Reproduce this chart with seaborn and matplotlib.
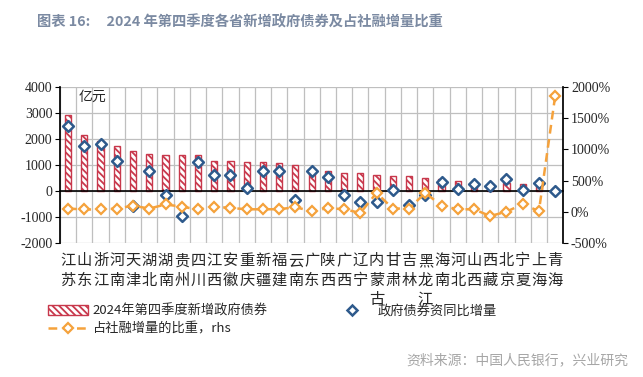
import numpy as np
import pandas as pd
import seaborn as sns
import matplotlib.pyplot as plt
from matplotlib.patches import Patch
from matplotlib.lines import Line2D

# 数据（亿元 / %），按图中从左到右读取
provinces = ["江苏", "山东", "浙江", "河南", "天津", "湖北", "湖南", "贵州", "四川", "江西",
             "安徽", "重庆", "新疆", "福建", "云南", "广东", "陕西", "广西", "辽宁", "内蒙古",
             "甘肃", "吉林", "黑龙江", "海南", "河北", "山西", "西藏", "北京", "宁夏", "上海", "青海"]
new_bonds = [2910, 2140, 1930, 1710, 1520, 1440, 1400, 1370, 1370, 1150,
             1150, 1120, 1100, 1070, 1000, 800, 760, 710, 680, 610,
             570, 570, 520, 470, 400, 360, 200, 310, 260, 230, 120]
yoy_increase = [2500, 1720, 1800, 1150, -560, 770, -140, -960, 1100, 620,
                620, 120, 780, 780, -330, 780, 550, -150, -410, -410,
                50, -530, -140, 360, 70, 270, 200, 450, 40, 320, 0]
share_tsf = [55, 40, 40, 55, 100, 55, 120, 85, 40, 85,
             65, 43, 43, 45, 75, 16, 60, 45, -16, 305,
             55, 55, 305, 100, 43, 43, -65, 5, 125, 14, 1850]

left_ticks = [-2000, -1000, 0, 1000, 2000, 3000, 4000]
right_ticks = [-500, 0, 500, 1000, 1500, 2000]

df = pd.DataFrame({
    "省份": provinces,
    "idx": np.arange(len(provinces)),
    "新增": new_bonds,
    "同比": yoy_increase,
    "占比": share_tsf,
})

red = "#c8384c"
blue = "#2e5a8c"
orange = "#f5a23c"

sns.set_theme(style="white")
plt.rcParams["font.family"] = ["Noto Sans CJK SC", "DejaVu Sans"]
plt.rcParams["hatch.linewidth"] = 1.3
plt.rcParams["axes.unicode_minus"] = False

fig = plt.figure(figsize=(6.43, 3.77), dpi=100)
ax = fig.add_axes([0.0933, 0.3546, 0.7827, 0.4154])

# 柱状：新增政府债券
sns.barplot(data=df, x="idx", y="新增", ax=ax, color="white", width=0.38,
            edgecolor=red, linewidth=1.0, native_scale=True)
for p in ax.patches:
    p.set_hatch("\\\\\\\\\\")
    p.set_facecolor("white")
    p.set_edgecolor(red)

# 散点：同比增量
sns.scatterplot(data=df, x="idx", y="同比", ax=ax, marker="D", s=30,
                facecolor="white", edgecolor=blue, linewidth=1.8, zorder=4)

ax.set_xlim(-0.5, len(provinces) - 0.5)
ax.set_ylim(-2000, 4000)
ax.set_yticks(left_ticks)
ax.set_yticklabels([str(v) for v in left_ticks], fontfamily="Liberation Serif", fontsize=10)
ax.set_xticks(df["idx"])
ax.set_xticklabels(["\n".join(p) for p in provinces], fontsize=9.5, linespacing=0.95)
ax.set_xticks(np.arange(len(provinces) + 1) - 0.5, minor=True)
ax.tick_params(axis="x", which="major", length=0, pad=44)
ax.tick_params(axis="x", which="minor", length=3.5, width=0.8, color="black", direction="out")
ax.tick_params(axis="y", length=3.5, width=0.8, color="black", direction="out", pad=2)
ax.set_xlabel("")
ax.set_ylabel("")

ax.grid(axis="y", which="major", color="#bfbfbf", linewidth=0.9)
ax.grid(axis="x", which="minor", color="#bfbfbf", linewidth=0.9)
ax.set_axisbelow(True)

ax.spines["bottom"].set_position(("data", 0))
ax.spines["bottom"].set_color("black")
ax.spines["bottom"].set_linewidth(1.2)
ax.spines["left"].set_color("black")
ax.spines["top"].set_visible(False)
ax.spines["right"].set_visible(False)

ax.text(0.036, 0.935, "亿元", transform=ax.transAxes, fontsize=10, va="center", ha="left")

# 折线：占社融增量的比重（右轴）
ax2 = ax.twinx()
sns.lineplot(data=df, x="idx", y="占比", ax=ax2, color=orange, linewidth=1.8,
             linestyle=(0, (3.5, 2.2)), marker="D", markersize=5.2,
             markerfacecolor="white", markeredgecolor=orange, markeredgewidth=1.6,
             sort=False, zorder=5)
ax2.set_ylim(-500, 2000)
ax2.set_yticks(right_ticks)
ax2.set_yticklabels([f"{v}%" for v in right_ticks], fontfamily="Liberation Serif", fontsize=10)
ax2.tick_params(axis="y", length=3.5, width=0.8, color="black", direction="out", pad=2)
ax2.set_ylabel("")
ax2.grid(False)
for s in ["top", "bottom", "left"]:
    ax2.spines[s].set_visible(False)
ax2.spines["right"].set_color("black")
ax2.set_xlim(-0.5, len(provinces) - 0.5)

# 图例
handles = [
    Patch(facecolor="white", edgecolor=red, hatch="\\\\\\\\\\", linewidth=1.0),
    Line2D([], [], color=orange, linewidth=1.8, linestyle=(0, (3.5, 2.2)), marker="D",
           markersize=5.2, markerfacecolor="white", markeredgecolor=orange, markeredgewidth=1.6),
    Line2D([], [], linestyle="none", marker="D", markersize=5.2,
           markerfacecolor="white", markeredgecolor=blue, markeredgewidth=1.8),
]
labels = ["2024年第四季度新增政府债券", "占社融增量的比重，rhs", "政府债券资同比增量"]
fig.legend(handles, labels, loc="upper left", bbox_to_anchor=(0.0747, 0.192), ncol=2,
           frameon=False, fontsize=9.5, handlelength=3.0, handleheight=0.8,
           handletextpad=0.4, columnspacing=4.9, labelspacing=0.35,
           borderpad=0, borderaxespad=0)

fig.text(0.0575, 0.9416, "图表 16:     2024 年第四季度各省新增政府债券及占社融增量比重",
         fontsize=10.3, fontweight="bold", color="#7b8aa2", va="center", ha="left")
fig.text(0.977, 0.045, "资料来源：中国人民银行，兴业研究", fontsize=10,
         color="#a6a6a6", va="center", ha="right")

fig.savefig("out.png", dpi=100)
